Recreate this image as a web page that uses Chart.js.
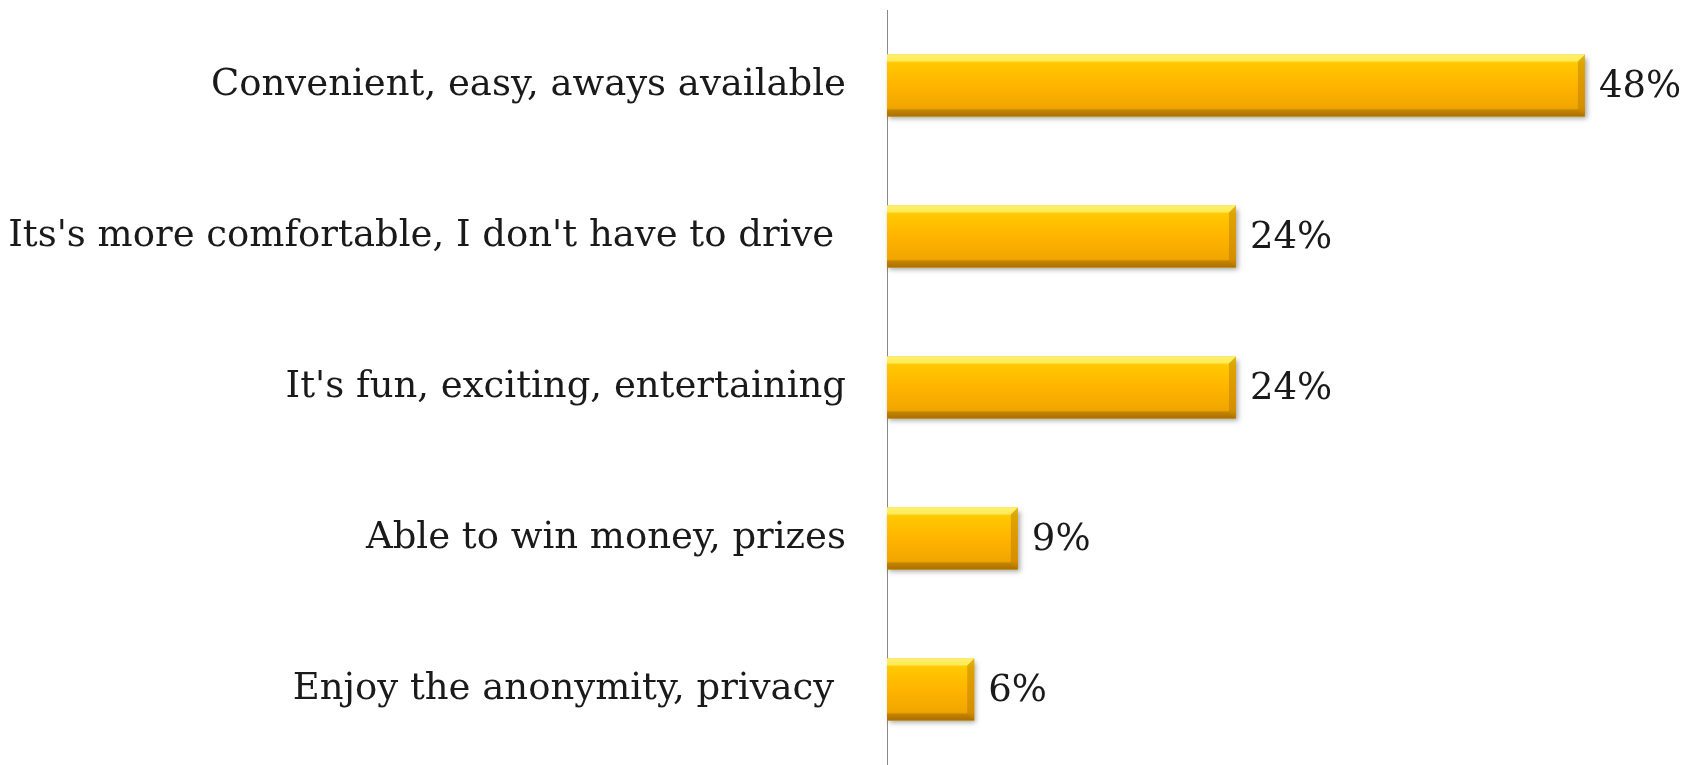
<!DOCTYPE html>
<html>
<head>
<meta charset="utf-8">
<script src="https://cdn.jsdelivr.net/npm/chart.js@4.4.0/dist/chart.umd.min.js"></script>
<style>
    html, body { margin: 0; padding: 0; background: #fff; }
    #wrap { width: 1700px; height: 765px; position: relative; }
</style>
</head>
<body>
<div id="wrap"><canvas id="reasonChart"></canvas></div>
<script>
const categories = [
    'Convenient, easy, aways available',
    "Its's more comfortable, I don't have to drive ",
    "It's fun, exciting, entertaining",
    'Able to win money, prizes',
    'Enjoy the anonymity, privacy '
];
const shares = [48, 24, 24, 9, 6];
const valueLabels = ['48%', '24%', '24%', '9%', '6%'];

const FONT = "'DejaVu Serif', 'Liberation Serif', serif";
const GOLD = {
    mid: '#ffb600',
    shadow: 'rgba(0,0,0,0.35)'
};

// bevelled gold bars + value text at the bar end
const bevelBars = {
    id: 'bevelBars',
    afterDatasetsDraw(chart) {
        const ctx = chart.ctx;
        const meta = chart.getDatasetMeta(0);
        meta.data.forEach((bar, i) => {
            const x0 = bar.base, x1 = bar.x;
            const h = bar.height, y0 = bar.y - h / 2, y1 = bar.y + h / 2;
            const w = x1 - x0;
            const b = 7;

            ctx.save();
            ctx.shadowColor = GOLD.shadow;
            ctx.shadowBlur = 5;
            ctx.shadowOffsetX = 2;
            ctx.shadowOffsetY = 3;
            ctx.fillStyle = GOLD.mid;
            ctx.fillRect(x0, y0, w, h);
            ctx.restore();

            const g = ctx.createLinearGradient(0, y0, 0, y1);
            g.addColorStop(0, '#ffe94d');
            g.addColorStop(0.14, '#ffc800');
            g.addColorStop(0.5, '#ffb400');
            g.addColorStop(0.86, '#f0a600');
            g.addColorStop(1, '#b87c00');
            ctx.fillStyle = g;
            ctx.fillRect(x0, y0, w, h);

            // top bevel
            ctx.fillStyle = 'rgba(255,245,120,0.7)';
            ctx.beginPath();
            ctx.moveTo(x0, y0); ctx.lineTo(x1, y0); ctx.lineTo(x1 - b, y0 + b); ctx.lineTo(x0, y0 + b);
            ctx.closePath(); ctx.fill();
            // bottom bevel
            ctx.fillStyle = 'rgba(150,95,0,0.4)';
            ctx.beginPath();
            ctx.moveTo(x0, y1); ctx.lineTo(x1, y1); ctx.lineTo(x1 - b, y1 - b); ctx.lineTo(x0, y1 - b);
            ctx.closePath(); ctx.fill();
            // right bevel
            ctx.fillStyle = 'rgba(170,110,0,0.4)';
            ctx.beginPath();
            ctx.moveTo(x1, y0); ctx.lineTo(x1, y1); ctx.lineTo(x1 - b, y1 - b); ctx.lineTo(x1 - b, y0 + b);
            ctx.closePath(); ctx.fill();

            ctx.fillStyle = '#1a1a1a';
            ctx.font = '37px ' + FONT;
            ctx.textAlign = 'left';
            ctx.textBaseline = 'middle';
            ctx.fillText(valueLabels[i], x1 + 14, bar.y + 2);
        });
    }
};

const ctx = document.getElementById('reasonChart').getContext('2d');
new Chart(ctx, {
    type: 'bar',
    data: {
        labels: categories,
        datasets: [{
            data: shares,
            backgroundColor: 'rgba(0,0,0,0)',
            borderWidth: 0,
            barPercentage: 0.41,
            categoryPercentage: 1
        }]
    },
    options: {
        indexAxis: 'y',
        responsive: true, maintainAspectRatio: false,
        animation: false,
        layout: { padding: { top: 10, bottom: 0, left: 0, right: 86 } },
        plugins: { legend: { display: false }, tooltip: { enabled: false } },
        scales: {
            x: { display: false, min: 0, max: 50 },
            y: {
                afterFit: scale => {
                    scale.width = 887;
                    scale.paddingTop = 0;
                    scale.paddingBottom = 0;
                },
                grid: { display: false, drawTicks: false },
                border: { display: true, color: '#8a8a8a', width: 1 },
                ticks: { color: '#1a1a1a', padding: 41, font: { family: FONT, size: 37 } }
            }
        }
    },
    plugins: [bevelBars]
});
</script>
</body>
</html>
